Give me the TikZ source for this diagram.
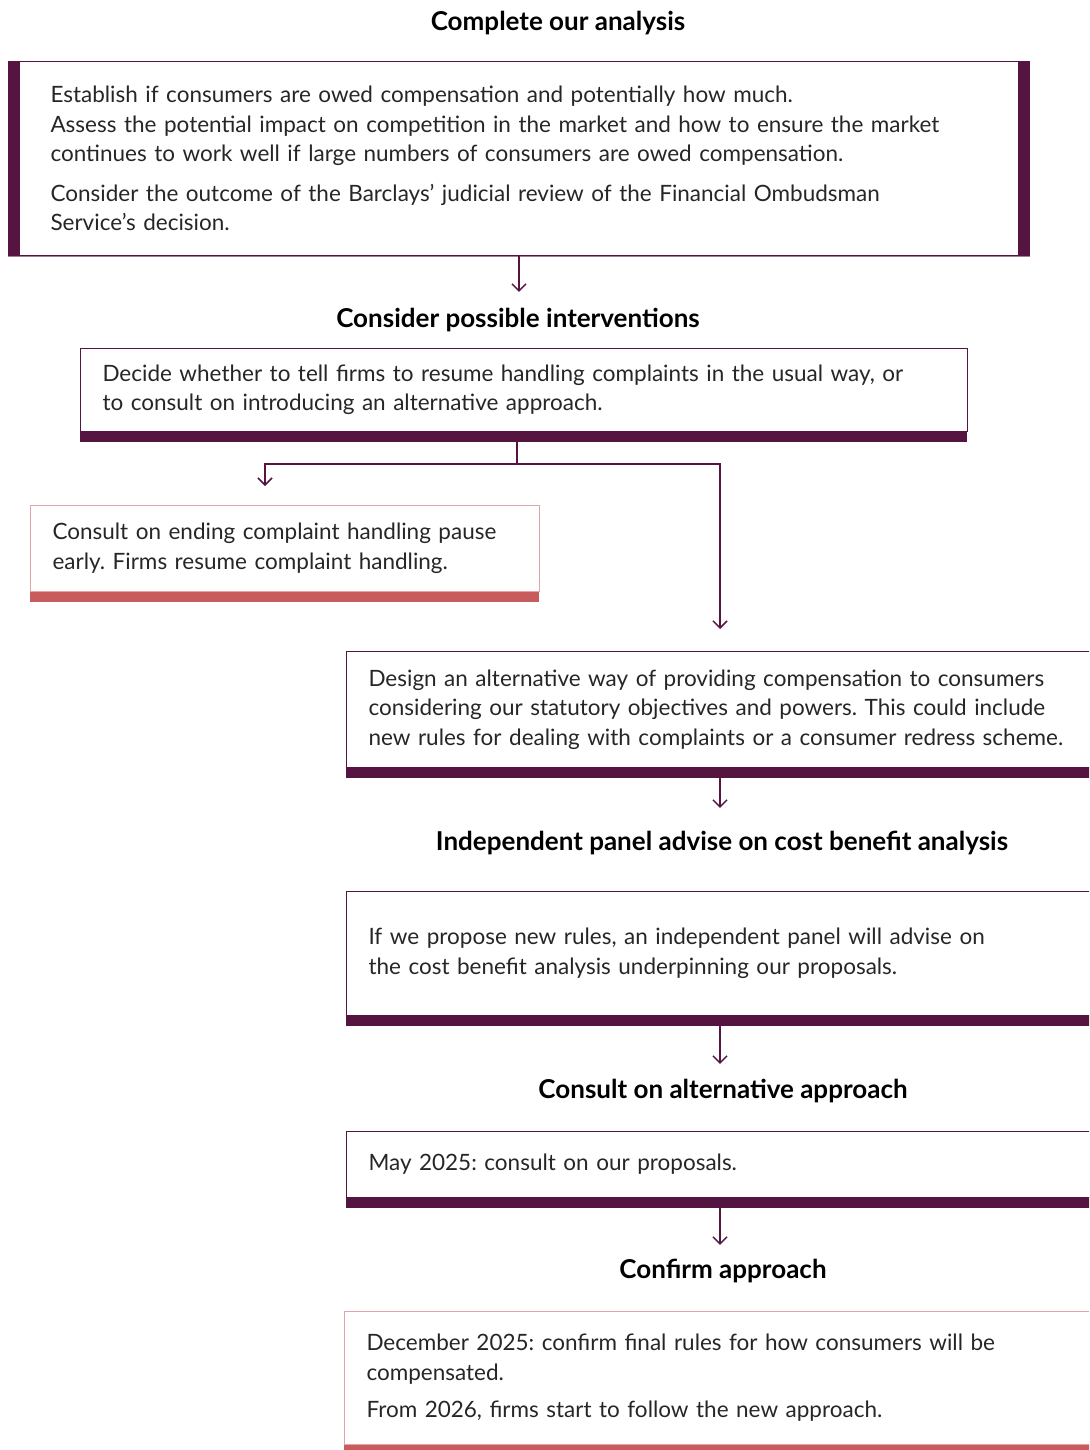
\documentclass[tikz,border=0pt]{standalone}
\usepackage{fontspec}
\setmainfont{Lato}
\usetikzlibrary{arrows.meta}
\definecolor{plum}{HTML}{561440}
\definecolor{coral}{HTML}{C85C5C}
\definecolor{blush}{HTML}{E4A3A9}

\begin{document}
\frenchspacing
\begin{tikzpicture}[x=1pt,y=-1pt,
  every node/.style={font=\fontsize{22.5}{29.5}\selectfont,text=black!85},
  head/.style={font=\fontsize{26}{30}\selectfont\bfseries,text=black,inner sep=0pt},
  card/.style={draw=#1,line width=1pt,anchor=north west,align=left,inner ysep=0pt,inner xsep=22pt},
  card/.default=plum,
  bar/.style={fill=#1,anchor=north west,inner sep=0pt,minimum height=10pt},
  bar/.default=plum,
  link/.style={draw=plum,line width=1.5pt,-{Straight Barb[length=7pt,width=14pt]}}]
  \useasboundingbox (0,0) rectangle (1089,1450);
  \clip (0,0) rectangle (1089,1450);

  % complete our analysis
  \node [head] (h1) at (558,23) {Complete our analysis};
  \node [card,inner xsep=42pt,text width=937pt,minimum height=194pt] (box1) at (8,61)
    {Establish if consumers are owed compensation and potentially how much.\\
     Assess the potential impact on competition in the market and how to ensure the market\\
     continues to work well if large numbers of consumers are owed compensation.\par\vspace{10pt}
     Consider the outcome of the Barclays' judicial review of the Financial Ombudsman\\
     Service's decision.};
  \fill [plum] (box1.north west) rectangle ([xshift=12pt]box1.south west);
  \fill [plum] ([xshift=-12pt]box1.north east) rectangle (box1.south east);
  \draw [plum!55,line width=1pt] (box1.south west) -- (box1.south east);

  % consider possible interventions
  \node [head] (h2) at (518,320) {Consider possible interventions};
  \draw [link,shorten >=16pt] (box1.south) -- (box1.south |- h2.north);
  \node [card,text width=843pt,minimum height=83pt] (box2) at (80,348)
    {Decide whether to tell firms to resume handling complaints in the usual way, or\\
     to consult on introducing an alternative approach.};
  \node [bar,minimum width=887pt] (bar2) at (box2.south west) {};

  \coordinate (fork) at (517,464);
  \coordinate (leftend) at (265,486);
  \coordinate (rightend) at (720,629);
  \draw [draw=plum,line width=1.5pt] (bar2.south -| fork) -- (fork);
  \draw [link] (fork) -| (leftend);
  \draw [link] (fork) -| (rightend);

  % pause ends early
  \node [card=blush,text width=465pt,minimum height=86pt] (box3) at (30,505)
    {Consult on ending complaint handling pause\\
     early. Firms resume complaint handling.};
  \node [bar=coral,minimum width=509pt] (bar3) at (box3.south west) {};

  % alternative approach
  \node [card,text width=740pt,minimum height=116pt] (box4) at (346,651)
    {Design an alternative way of providing compensation to consumers\\
     considering our statutory objectives and powers. This could include\\
     new rules for dealing with complaints or a consumer redress scheme.};
  \node [bar,minimum width=784pt] (bar4) at (box4.south west) {};

  \node [head] (h3) at (722,843) {Independent panel advise on cost benefit analysis};
  \draw [link,shorten >=23pt] (bar4.south -| rightend) -- (h3.north -| rightend);
  \node [card,text width=740pt,minimum height=124pt] (box5) at (346,891)
    {If we propose new rules, an independent panel will advise on\\
     the cost benefit analysis underpinning our proposals.};
  \node [bar,minimum width=784pt] (bar5) at (box5.south west) {};

  \node [head] (h4) at (723,1091) {Consult on alternative approach};
  \draw [link,shorten >=15pt] (bar5.south -| rightend) -- (h4.north -| rightend);
  \node [card,text width=740pt,minimum height=66pt] (box6) at (346,1131)
    {May 2025: consult on our proposals.};
  \node [bar,minimum width=784pt] (bar6) at (box6.south west) {};

  \node [head] (h5) at (723,1271) {Confirm approach};
  \draw [link,shorten >=14pt] (bar6.south -| rightend) -- (h5.north -| rightend);
  \node [card=blush,text width=742pt,minimum height=133pt] (box7) at (344,1311)
    {December 2025: confirm final rules for how consumers will be\\
     compensated.\par\vspace{8pt}
     From 2026, firms start to follow the new approach.};
  \node [bar=coral,minimum width=786pt] (bar7) at (box7.south west) {};
\end{tikzpicture}
\end{document}
